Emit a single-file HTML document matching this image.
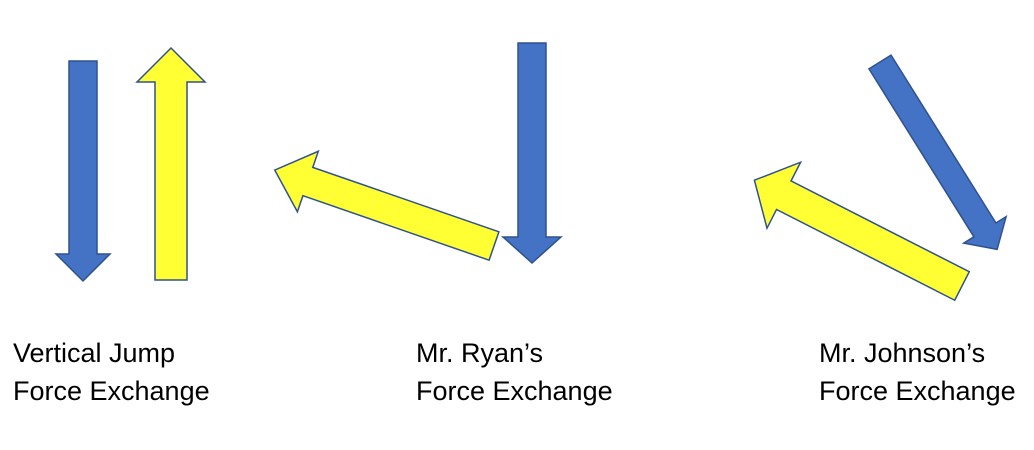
<!DOCTYPE html>
<html><head><meta charset="utf-8"><style>
html,body{margin:0;padding:0;background:#fff;width:1034px;height:450px;overflow:hidden}
svg{position:absolute;left:0;top:0}
.t{position:absolute;font-family:"Liberation Sans",sans-serif;font-size:27px;line-height:38px;color:#000}
</style></head><body>
<svg width="1034" height="450" viewBox="0 0 1034 450">
<g stroke="#2F528F" stroke-width="1.5">
<polygon fill="#4472C4" points="69,61 97,61 97,254 110,254 83,281 56,254 69,254"/>
<polygon fill="#FFFF33" points="155,280 187,280 187,82 205,82 171,48 137,82 155,82"/>
<polygon fill="#4472C4" points="518,43 546,43 546,237 561,237 532,263 503,237 518,237"/>
<g transform="translate(494,246) rotate(199.1)">
<polygon fill="#FFFF33" points="0,-15 197,-15 197,-32 232,0 197,32 197,15 0,15"/>
</g>
<g transform="translate(962,286) rotate(207)">
<polygon fill="#FFFF33" points="0,-16 200,-16 200,-37 233,0 200,37 200,16 0,16"/>
</g>
<g transform="translate(880,62) rotate(58)">
<polygon fill="#4472C4" points="0,-13 198,-13 198,-25 221,0 198,25 198,13 0,13"/>
</g>
</g>
</svg>
<div class="t" style="left:13px;top:334px">Vertical Jump<br>Force Exchange</div>
<div class="t" style="left:416px;top:334px">Mr. Ryan’s<br>Force Exchange</div>
<div class="t" style="left:819px;top:334px">Mr. Johnson’s<br>Force Exchange</div>
</body></html>
